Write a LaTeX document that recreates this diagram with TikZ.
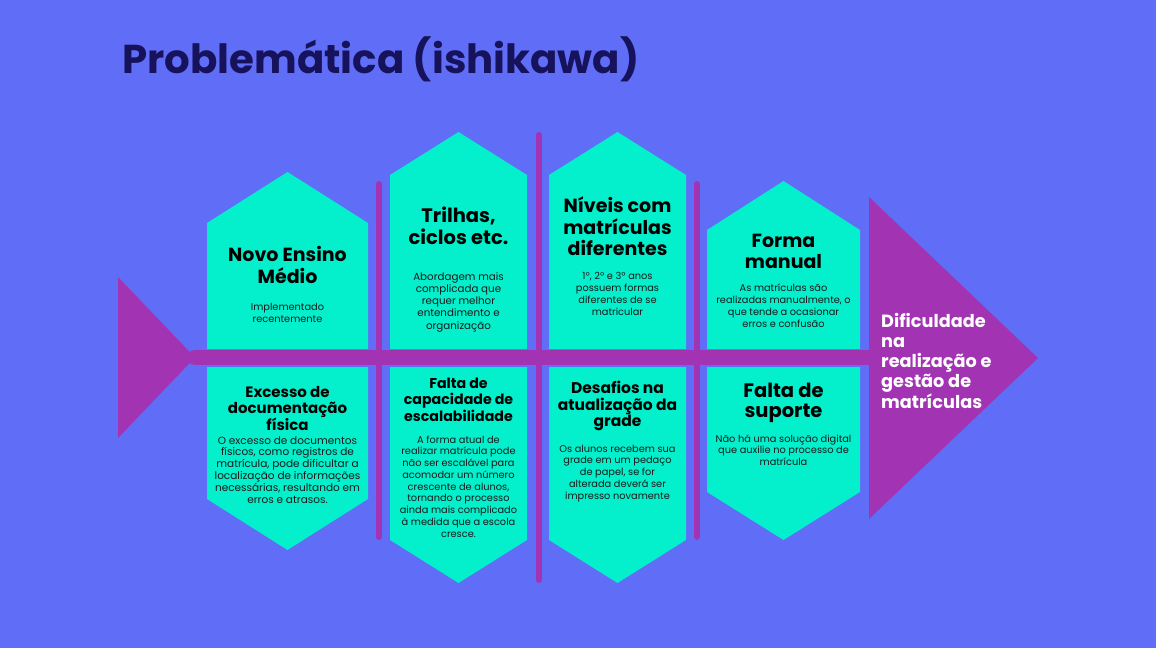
\documentclass[tikz,border=0pt]{standalone}
\usepackage{fontspec}
\setmainfont{Poppins}
\definecolor{bgc}{HTML}{606DF6}
\definecolor{purp}{HTML}{A234B4}
\definecolor{cyanb}{HTML}{04F0CC}
\definecolor{navy}{HTML}{16125C}
\newcommand{\tblc}[1]{\begin{tabular}[t]{@{}c@{}}#1\end{tabular}}
\newcommand{\tbll}[1]{\begin{tabular}[t]{@{}l@{}}#1\end{tabular}}
\tikzset{
  bone/.style={purp, line width=6pt, line cap=round},
  spineline/.style={purp, line width=15pt, line cap=round},
  boxfill/.style={fill=cyanb},
  ttl/.style={anchor=base, inner sep=0pt, text=black, font=\fontsize{19}{21}\selectfont\bfseries},
  ttls/.style={anchor=base, inner sep=0pt, text=black, font=\fontsize{15}{16.5}\selectfont\bfseries},
  body/.style={anchor=base, inner sep=0pt, text=black!90, font=\fontsize{9.8}{12.3}\selectfont},
  bodys/.style={anchor=base, inner sep=0pt, text=black!90, font=\fontsize{9.8}{11.75}\selectfont},
}
\begin{document}
\begin{tikzpicture}[x=1pt,y=-1pt]
\fill[bgc] (0,0) rectangle (1156,648);
\useasboundingbox (0,0) rectangle (1156,648);
% title
\node[anchor=base west, inner sep=0pt, text=navy, font=\fontsize{40.3}{44}\selectfont\bfseries] (title) at (122,73) {Problemática (ishikawa)};
% bones
\draw[bone] (379,184) -- (379,537);
\draw[bone] (539,135) -- (539,580);
\draw[bone] (697,184) -- (697,537);
\draw[spineline] (195,357.5) -- (868,357.5);
% tail
\fill[purp] (118,277) -- (195,357.5) -- (118,438) -- cycle;
% head
\fill[purp] (869,197) -- (1038,358) -- (869,519) -- cycle;
% top boxes
\fill[boxfill] (207,349) -- (207,223) -- (287.5,172) -- (368,223) -- (368,349) -- cycle;
\fill[boxfill] (390,349) -- (390,175) -- (458.5,132) -- (527,175) -- (527,349) -- cycle;
\fill[boxfill] (549,349) -- (549,175) -- (617.5,132) -- (686,175) -- (686,349) -- cycle;
\fill[boxfill] (707,349) -- (707,230) -- (783.5,181) -- (860,230) -- (860,349) -- cycle;
% bottom boxes
\fill[boxfill] (207,367) -- (207,499) -- (287.5,550) -- (368,499) -- (368,367) -- cycle;
\fill[boxfill] (390,367) -- (390,540) -- (458.5,583) -- (527,540) -- (527,367) -- cycle;
\fill[boxfill] (549,367) -- (549,540) -- (617.5,583) -- (686,540) -- (686,367) -- cycle;
\fill[boxfill] (707,367) -- (707,492) -- (783.5,540) -- (860,492) -- (860,367) -- cycle;
% texts top
\node[ttl] (t1) at (287.5,261) {\tblc{Novo Ensino\\Médio}};
\node[body] (b1) at (287.5,310) {\tblc{Implementado\\recentemente}};
\node[ttl, font=\fontsize{19.5}{22}\selectfont\bfseries] (t2) at (458.5,222) {\tblc{Trilhas,\\ciclos etc.}};
\node[body, font=\fontsize{10.3}{12.3}\selectfont] (b2) at (458.5,280) {\tblc{Abordagem mais\\complicada que\\requer melhor\\entendimento e\\organização}};
\node[ttl, font=\fontsize{19}{21.5}\selectfont\bfseries] (t3) at (617.5,212) {\tblc{Níveis com\\matrículas\\diferentes}};
\node[body] (b3) at (617.5,279) {\tblc{1º, 2º e 3º anos\\possuem formas\\diferentes de se\\matricular}};
\node[ttl] (t4) at (783.5,247) {\tblc{Forma\\manual}};
\node[body] (b4) at (783.5,291) {\tblc{As matrículas são\\realizadas manualmente, o\\que tende a ocasionar\\erros e confusão}};
% texts bottom
\node[ttls] (t5) at (287.5,397) {\tblc{Excesso de\\documentação\\física}};
\node[bodys, font=\fontsize{10.5}{11.8}\selectfont] (b5) at (287.5,444) {\tblc{O excesso de documentos\\físicos, como registros de\\matrícula, pode dificultar a\\localização de informações\\necessárias, resultando em\\erros e atrasos.}};
\node[ttls, font=\fontsize{14.2}{16.5}\selectfont\bfseries] (t6) at (458.5,388) {\tblc{Falta de\\capacidade de\\escalabilidade}};
\node[bodys] (b6) at (458.5,443) {\tblc{A forma atual de\\realizar matrícula pode\\não ser escalável para\\acomodar um número\\crescente de alunos,\\tornando o processo\\ainda mais complicado\\à medida que a escola\\cresce.}};
\node[ttls, font=\fontsize{15.5}{16.5}\selectfont\bfseries] (t7) at (617.5,393) {\tblc{Desafios na\\atualização da\\grade}};
\node[bodys] (b7) at (617.5,452) {\tblc{Os alunos recebem sua\\grade em um pedaço\\de papel, se for\\alterada deverá ser\\impresso novamente}};
\node[ttl, font=\fontsize{19.5}{20}\selectfont\bfseries] (t8) at (783.5,397) {\tblc{Falta de\\suporte}};
\node[bodys] (b8) at (783.5,442) {\tblc{Não há uma solução digital\\que auxilie no processo de\\matrícula}};
% head text
\node[anchor=base west, inner sep=0pt, text=white, font=\fontsize{17.7}{20.2}\selectfont\bfseries] (head) at (881,327) {\tbll{Dificuldade\\na\\realização e\\gestão de\\matrículas}};
\end{tikzpicture}
\end{document}
